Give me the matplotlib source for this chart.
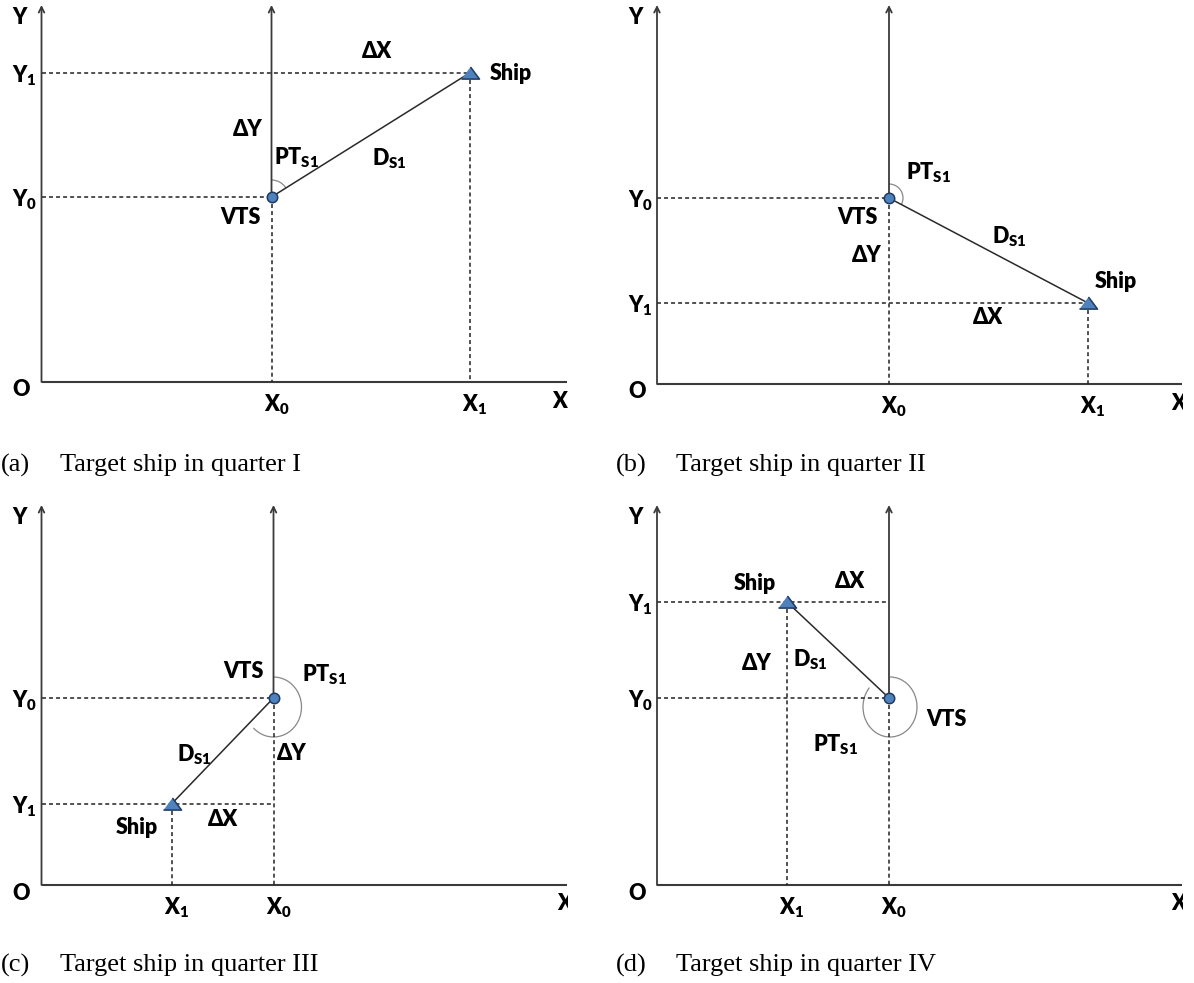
import numpy as np
import matplotlib.pyplot as plt
from matplotlib.patches import Arc
from matplotlib.transforms import Bbox, TransformedBbox

plt.rcParams['font.family'] = ['Lato', 'DejaVu Sans']
plt.rcParams['font.weight'] = 'heavy'
plt.rcParams['mathtext.fontset'] = 'custom'
plt.rcParams['mathtext.rm'] = 'Lato:heavy'
plt.rcParams['mathtext.it'] = 'Lato:heavy'
plt.rcParams['mathtext.bf'] = 'Lato:heavy'

W, H = 1194, 983

panels = ['(a)', '(b)', '(c)', '(d)']
quarters = ['I', 'II', 'III', 'IV']
# origin O of each panel (figure pixels, measured from top-left)
origin_x = [41.5, 657, 41.5, 657]
origin_y = [382, 384, 885, 885]
axis_len_x = [525, 525, 525, 525]
axis_len_y = [377, 379, 380, 380]
# VTS station and target ship, local coords (O = 0,0, y up)
vts_x = [230, 232, 232, 232]
vts_y = [185, 186, 187, 187]
ship_x = [428, 431, 130, 130]
ship_y = [309, 81, 81, 283]
caption_y = [465, 465, 965, 965]
# where the "X" axis letter sits relative to the axis end (it is cut off in b, c, d)
x_letter_dx = [-7, -3.5, -2, -3.5]

# free labels: text, x, y, ha  (local coords)
labels = [
    [('ΔX', 336, 331, 'center'), ('Ship', 448, 309, 'left'), ('ΔY', 206, 252, 'center'),
     (r'$\mathregular{PT_{S1}}$', 233, 224, 'left'), (r'$\mathregular{D_{S1}}$', 348, 223, 'center'),
     ('VTS', 199, 165, 'center')],
    [(r'$\mathregular{PT_{S1}}$', 249, 211, 'left'), ('VTS', 200, 167, 'center'),
     (r'$\mathregular{D_{S1}}$', 352, 147, 'center'), ('ΔY', 210, 129, 'center'),
     ('Ship', 459, 103, 'center'), ('ΔX', 331, 67, 'center')],
    [('VTS', 202, 213, 'center'), (r'$\mathregular{PT_{S1}}$', 260, 210, 'left'),
     (r'$\mathregular{D_{S1}}$', 153, 130, 'center'), ('ΔY', 250, 132, 'center'),
     ('ΔX', 182, 65, 'center'), ('Ship', 95, 57, 'center')],
    [('Ship', 98, 301, 'center'), ('ΔX', 193, 303, 'center'), ('ΔY', 100, 222, 'center'),
     (r'$\mathregular{D_{S1}}$', 136, 225, 'left'), ('VTS', 289, 166, 'center'),
     (r'$\mathregular{PT_{S1}}$', 179, 140, 'center')],
]
# bearing arc: centre offset from VTS, width, height
arc_dx = [0, 0, 0, 1]
arc_dy = [0, 0, -9, -9]
arc_w = [34, 28, 56, 54]
arc_h = [34, 28, 60, 60]

fig = plt.figure(figsize=(W / 100, H / 100), dpi=100)
ax = fig.add_axes([0, 0, 1, 1])
ax.set_xlim(0, W)
ax.set_ylim(0, H)
ax.axis('off')

axis_col = '#3a3a3a'
tri = [(-1, -0.62), (1, -0.62), (0, 0.72)]
fs = 15.5

for i in range(4):
    ox, oy = origin_x[i], H - origin_y[i]
    vx, vy = ox + vts_x[i], oy + vts_y[i]
    sx, sy = ox + ship_x[i], oy + ship_y[i]
    ytop = oy + axis_len_y[i]
    xend = ox + axis_len_x[i]

    # main axes
    ax.plot([ox, xend], [oy, oy], color=axis_col, lw=1.5, solid_capstyle='butt')
    for xx, y0 in [(ox, oy), (vx, vy)]:
        ax.annotate('', xy=(xx, ytop), xytext=(xx, y0),
                    arrowprops=dict(arrowstyle='->', lw=1.3, color=axis_col,
                                    shrinkA=0, shrinkB=0, mutation_scale=10))

    # dashed projection lines
    dash = dict(color='#222222', lw=1.1, linestyle=(0, (2.6, 2.0)))
    ax.plot([ox, vx], [vy, vy], **dash)
    ax.plot([ox, max(sx, vx)], [sy, sy], **dash)
    ax.plot([vx, vx], [vy, oy], **dash)
    ax.plot([sx, sx], [sy, oy], **dash)

    # range line and bearing arc
    ax.plot([vx, sx], [vy, sy], color='#2a2a2a', lw=1.1)
    ang = np.degrees(np.arctan2(sy - vy, sx - vx))
    t2 = 90 if ang < 90 else 450
    ax.add_patch(Arc((vx + arc_dx[i], vy + arc_dy[i]), arc_w[i], arc_h[i],
                     theta1=ang, theta2=t2, color='#888888', lw=0.9))

    ax.plot(vx, vy, 'o', ms=7.5, mfc='#4f81bd', mec='#1f3a60', mew=1.1, zorder=5)
    ax.plot(sx, sy, marker=tri, ms=13, mfc='#4f81bd', mec='#1f3a60', mew=1.1, zorder=5)

    # axis labels
    ax.text(ox - 29, ytop - 12, 'Y', fontsize=fs, ha='left', va='center')
    ax.text(ox - 20, oy - 8, 'O', fontsize=fs, ha='center', va='center')
    xl = ax.text(xend + x_letter_dx[i], oy - 19, 'X', fontsize=fs, ha='center', va='center')
    xl.set_clip_box(TransformedBbox(Bbox([[ox, oy - 60], [xend + 1, oy]]), ax.transData))
    xl.set_clip_on(True)
    ax.text(ox - 29, vy - 3, r'$\mathregular{Y_0}$', fontsize=fs, ha='left', va='center')
    ax.text(ox - 29, sy - 3, r'$\mathregular{Y_1}$', fontsize=fs, ha='left', va='center')
    ax.text(vx - 8, oy - 23, r'$\mathregular{X_0}$', fontsize=fs, ha='left', va='center')
    ax.text(sx - 8, oy - 23, r'$\mathregular{X_1}$', fontsize=fs, ha='left', va='center')

    for txt, lx, ly, ha in labels[i]:
        ax.text(ox + lx, oy + ly, txt, fontsize=fs, ha=ha, va='center')

    # caption
    cy = H - caption_y[i]
    ax.text(ox - 41, cy, panels[i], fontsize=19, family='Liberation Serif',
            weight='normal', ha='left', va='center')
    ax.text(ox + 19, cy, 'Target ship in quarter ' + quarters[i], fontsize=19,
            family='Liberation Serif', weight='normal', ha='left', va='center')

fig.savefig('out.png', dpi=100)
